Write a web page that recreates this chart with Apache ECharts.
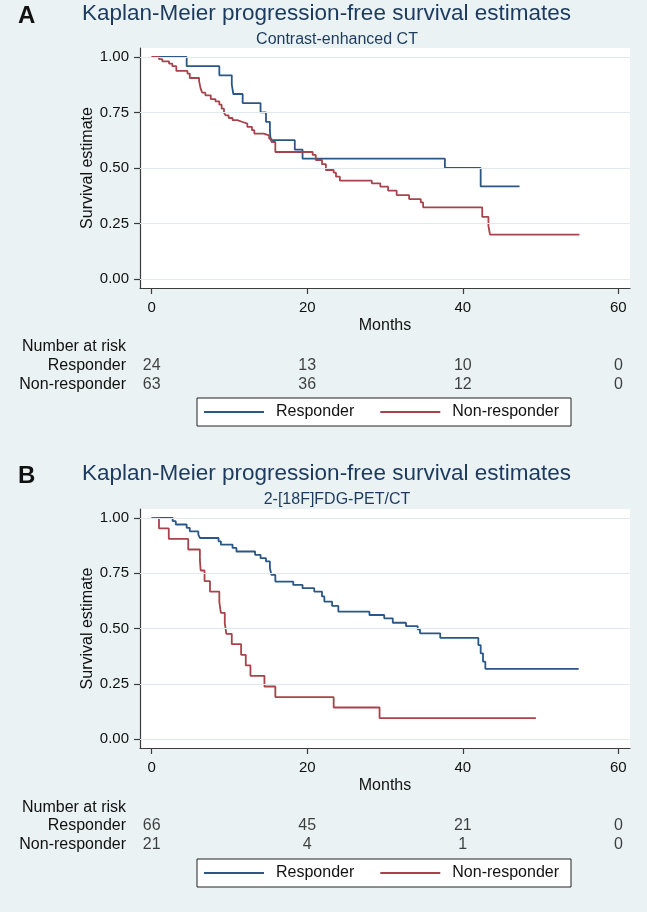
<!DOCTYPE html>
<html>
<head>
<meta charset="utf-8">
<script src="https://cdn.jsdelivr.net/npm/echarts@6/dist/echarts.min.js"></script>
<style>
html,body{margin:0;padding:0;background:#eaf2f3;}
#chart{width:647px;height:912px;}
</style>
</head>
<body>
<div id="chart"></div>
<script>
// ---------- data ----------
const groups = ['Responder', 'Non-responder'];
const monthTicks = [0, 20, 40, 60];
const survTicks = [0, 0.25, 0.5, 0.75, 1];
const riskTimes = [0, 20, 40, 60];

// Panel A: Contrast-enhanced CT  [months, survival]
const ctResponder = [[0,1],[4.5,0.958],[8.7,0.917],[10.3,0.875],[10.5,0.833],[11.7,0.792],[14.0,0.750],[14.7,0.708],[15.2,0.667],[15.3,0.625],[18.4,0.583],[19.4,0.542],[37.7,0.500],[42.3,0.417],[47.3,0.417]];
const ctNonResponder = [[0,1],[0.94,0.99],[1.37,0.98],[2.23,0.97],[2.66,0.958],[3.17,0.937],[4.6,0.925],[4.9,0.905],[6.1,0.89],[6.3,0.857],[6.5,0.839],[6.9,0.827],[7.6,0.81],[8.2,0.80],[8.7,0.785],[9.0,0.767],[9.3,0.749],[9.5,0.737],[9.9,0.725],[10.4,0.715],[11.0,0.707],[11.7,0.70],[12.3,0.685],[12.9,0.67],[13.2,0.655],[14.4,0.647],[15.1,0.632],[15.4,0.617],[15.9,0.572],[20.7,0.559],[21.1,0.536],[21.9,0.517],[22.4,0.491],[23.4,0.479],[23.7,0.461],[24.2,0.443],[28.3,0.431],[29.4,0.416],[30.4,0.398],[31.5,0.378],[33.1,0.36],[34.6,0.345],[34.9,0.323],[42.5,0.28],[43.3,0.239],[43.5,0.20],[55,0.20]];
const ctRiskResponder = [24, 13, 10, 0];
const ctRiskNonResponder = [63, 36, 12, 0];

// Panel B: 2-[18F]FDG-PET/CT
const petResponder = [[0,1],[2.7,0.985],[3.1,0.970],[4.5,0.955],[4.9,0.939],[6.0,0.924],[6.2,0.909],[8.6,0.894],[8.9,0.879],[10.4,0.864],[10.9,0.848],[13.3,0.833],[14.0,0.818],[14.7,0.803],[15.2,0.773],[15.4,0.742],[15.9,0.712],[18.2,0.697],[19.4,0.682],[20.9,0.667],[21.9,0.645],[22.2,0.621],[23.2,0.602],[24.0,0.576],[28.0,0.561],[29.9,0.546],[31.0,0.526],[32.7,0.511],[34.2,0.496],[34.5,0.478],[37.1,0.458],[42.0,0.425],[42.3,0.388],[42.6,0.35],[42.9,0.318],[54.9,0.318]];
const petNonResponder = [[0,1],[0.94,0.952],[2.2,0.905],[4.7,0.857],[6.2,0.810],[6.3,0.762],[6.8,0.714],[7.5,0.667],[8.7,0.619],[8.9,0.571],[9.4,0.524],[9.6,0.476],[10.3,0.429],[11.5,0.381],[12.1,0.333],[12.7,0.286],[14.5,0.238],[15.9,0.190],[23.4,0.143],[29.3,0.095],[49.4,0.095]];
const petRiskResponder = [66, 45, 21, 0];
const petRiskNonResponder = [21, 4, 1, 0];

// ---------- styling ----------
const FONT = 'Liberation Sans, Arial, Helvetica, sans-serif';
const BLUE = '#2a5785';
const RED = '#a8434c';
const NAVY_TEXT = '#1c3a5e';
const AXIS = '#3c3c3c';
const GRIDC = '#e0eaed';
const XMIN = -1.5, XMAX = 61.5, YMIN = -0.04, YMAX = 1.04;

const panels = [
  {top: 48, h: 240, riskTop: 356.5, riskH: 37, nar: 347, legendTop: 398,
   letter: 'A', letterTop: 4, titleTop: 2, sub: 'Contrast-enhanced CT', subTop: 32,
   resp: ctResponder, non: ctNonResponder, rr: ctRiskResponder, rn: ctRiskNonResponder},
  {top: 509, h: 239, riskTop: 816.5, riskH: 38, nar: 807.5, legendTop: 859,
   letter: 'B', letterTop: 464, titleTop: 462, sub: '2-[18F]FDG-PET/CT', subTop: 492,
   resp: petResponder, non: petNonResponder, rr: petRiskResponder, rn: petRiskNonResponder}
];

const grid = [], xAxis = [], yAxis = [], series = [], title = [], legend = [];

panels.forEach((p, k) => {
  const gi = grid.length;
  grid.push({left: 140, top: p.top, width: 490, height: p.h, show: true, backgroundColor: '#ffffff', borderWidth: 0});
  grid.push({left: 140, top: p.riskTop, width: 490, height: p.riskH});

  xAxis.push({
    gridIndex: gi, type: 'value', min: XMIN, max: XMAX,
    name: 'Months', nameLocation: 'middle', nameGap: 30, nameMoveOverlap: false,
    nameTextStyle: {fontFamily: FONT, fontSize: 16, color: '#111'},
    axisLine: {show: true, onZero: false, lineStyle: {color: AXIS, width: 1.2}},
    axisTick: {show: true, inside: false, length: 6, customValues: monthTicks, lineStyle: {color: AXIS, width: 1.2}},
    axisLabel: {customValues: monthTicks, margin: 12, fontFamily: FONT, fontSize: 15, color: '#111'},
    splitLine: {show: false}
  });
  xAxis.push({gridIndex: gi + 1, type: 'value', min: XMIN, max: XMAX, show: false});

  yAxis.push({
    gridIndex: gi, type: 'value', min: YMIN, max: YMAX,
    name: 'Survival estimate', nameLocation: 'middle', nameGap: 44, nameMoveOverlap: false,
    nameTextStyle: {fontFamily: FONT, fontSize: 16, color: '#111'},
    axisLine: {show: true, onZero: false, lineStyle: {color: AXIS, width: 1.2}},
    axisTick: {show: true, inside: false, length: 6, customValues: survTicks, lineStyle: {color: AXIS, width: 1.2}},
    axisLabel: {customValues: survTicks, margin: 11, fontFamily: FONT, fontSize: 15, color: '#111',
      formatter: v => v.toFixed(2)},
    splitLine: {show: false}
  });
  yAxis.push({
    gridIndex: gi + 1, type: 'category', data: groups, inverse: true,
    axisLine: {show: false}, axisTick: {show: false},
    axisLabel: {interval: 0, margin: 14, fontFamily: FONT, fontSize: 16, color: '#111'}
  });

  const xi = gi, yi = gi;
  // grid lines
  series.push({
    type: 'line', xAxisIndex: xi, yAxisIndex: yi, data: [], z: 1, silent: true,
    markLine: {silent: true, symbol: 'none', label: {show: false}, animation: false,
      lineStyle: {color: GRIDC, type: 'solid', width: 1},
      data: survTicks.map(v => ({yAxis: v}))}
  });
  series.push({
    name: 'Responder', type: 'line', step: 'end', xAxisIndex: xi, yAxisIndex: yi,
    data: p.resp, showSymbol: false, symbol: 'none', z: 3, animation: false,
    lineStyle: {color: BLUE, width: 1.8}, itemStyle: {color: BLUE}
  });
  series.push({
    name: 'Non-responder', type: 'line', step: 'end', xAxisIndex: xi, yAxisIndex: yi,
    data: p.non, showSymbol: false, symbol: 'none', z: 3, animation: false,
    lineStyle: {color: RED, width: 1.8}, itemStyle: {color: RED}
  });
  // number at risk
  const riskData = [];
  riskTimes.forEach((t, i) => {
    riskData.push([t, groups[0], p.rr[i]]);
    riskData.push([t, groups[1], p.rn[i]]);
  });
  series.push({
    name: 'risk' + k, type: 'scatter', xAxisIndex: gi + 1, yAxisIndex: gi + 1,
    data: riskData, symbolSize: 1, itemStyle: {color: 'rgba(0,0,0,0)'}, animation: false, silent: true,
    label: {show: true, position: 'inside', formatter: d => String(d.value[2]),
      fontFamily: FONT, fontSize: 16, color: '#111'}
  });

  title.push({text: p.letter, left: 18, top: p.letterTop, padding: 0,
    textStyle: {fontFamily: FONT, fontSize: 24, fontWeight: 'bold', color: '#111'}});
  title.push({text: 'Kaplan-Meier progression-free survival estimates', left: 82, top: p.titleTop, padding: 0,
    textStyle: {fontFamily: FONT, fontSize: 22.5, fontWeight: 'normal', color: NAVY_TEXT}});
  title.push({text: p.sub, left: 337, top: p.subTop, textAlign: 'center', padding: 0,
    textStyle: {fontFamily: FONT, fontSize: 16, fontWeight: 'normal', color: NAVY_TEXT}});
  title.push({text: 'Number at risk', left: 22, top: p.nar - 8, padding: 0,
    textStyle: {fontFamily: FONT, fontSize: 16, fontWeight: 'normal', color: '#111'}});

  legend.push({
    left: 197, top: p.legendTop, orient: 'horizontal', selectedMode: false,
    data: groups, icon: 'rect', itemWidth: 60, itemHeight: 2, itemGap: 26,
    padding: [6, 12, 6, 7], backgroundColor: '#ffffff', borderColor: '#222', borderWidth: 1, borderRadius: 0,
    textStyle: {fontFamily: FONT, fontSize: 16, color: '#111', padding: [0, 0, 0, 7]}
  });
});

const chart = echarts.init(document.getElementById('chart'), null, {renderer: 'canvas'});
chart.setOption({
  backgroundColor: '#eaf2f3',
  animation: false,
  title, legend, grid, xAxis, yAxis, series
});
</script>
</body>
</html>
